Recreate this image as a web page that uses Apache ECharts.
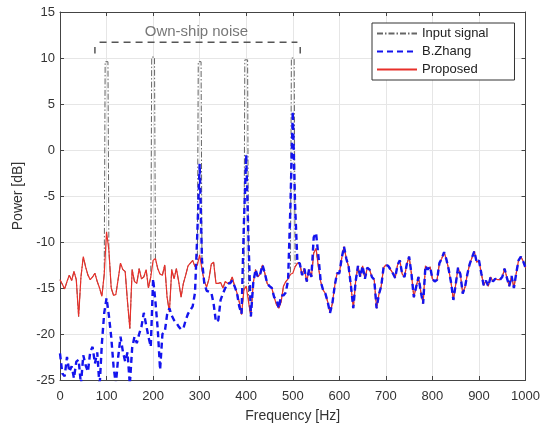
<!DOCTYPE html>
<html>
<head>
<meta charset="utf-8">
<script src="https://cdn.jsdelivr.net/npm/echarts@6/dist/echarts.min.js"></script>
<style>
  html, body { margin: 0; padding: 0; background: #fff; }
  #box { width: 543px; height: 428px; }
</style>
</head>
<body>
<div id="box"></div>
<script>
// frequency grid: one sample every 5 Hz, 0..1000
const step = 5;

// Proposed (red), 0..1000 Hz
const proposed = [
  -14.1,-14.6,-15.1,-14.3,-13.6,-14.2,-13.2,-14.1,-18.1,-13.8,-11.6,-12.7,-13.6,-14.1,-13.8,-13.4,-14.3,-15.0,-15.9,-13.5,
  -8.9,-10.9,-15.0,-15.8,-15.7,-14.0,-12.3,-13.0,-13.2,-16.5,-19.4,-13.0,-14.3,-14.5,-12.9,-14.0,-13.8,-13.0,-15.0,-13.8,
  -12.0,-11.8,-12.9,-13.5,-13.6,-12.5,-16.0,-17.6,-13.0,-14.0,-12.9,-14.3,-16.0,-14.5,-13.6,-12.6,-12.3,-12.0,-12.7,-12.5,
  -11.4,-13.0,-14.3,-14.9,-14.0,-12.4,-12.2,-14.5,-14.5,-14.4,-15.0,-14.3,-14.5,-14.4,-13.8,-14.8,-15.5,-16.5,-17.9,-15.2,
  -14.8,-16.5,-18.1,-14.5,-13.0,-13.8,-13.5,-12.5,-13.4,-14.5,-14.8,-15.0,-16.0,-16.8,-17.2,-16.5,-14.8,-14.3,-14.0,-13.5,
  -13.4,-12.7,-12.3,-12.3,-13.6,-12.9,-14.3,-13.0,-13.8,-11.2,-10.7,-12.7,-14.3,-15.2,-15.6,-16.5,-17.7,-16.7,-14.8,-13.4,
  -13.4,-11.8,-10.5,-11.8,-12.7,-14.8,-17.2,-14.3,-12.6,-13.8,-12.6,-14.0,-12.8,-13.0,-13.8,-14.1,-17.2,-15.7,-14.8,-12.8,
  -12.5,-12.6,-13.0,-13.4,-13.9,-12.5,-12.0,-13.5,-13.8,-12.4,-11.6,-13.5,-16.0,-14.9,-13.8,-15.4,-16.7,-12.6,-13.0,-12.7,
  -14.0,-14.3,-14.1,-12.3,-11.8,-11.1,-11.9,-13.0,-14.4,-16.3,-14.6,-12.8,-13.5,-15.6,-14.9,-13.5,-12.4,-11.7,-11.0,-12.2,
  -12.0,-13.4,-14.7,-14.2,-14.8,-13.8,-14.3,-14.0,-14.1,-14.1,-13.8,-12.9,-13.9,-14.8,-13.7,-15.0,-13.4,-12.0,-11.6,-12.1,
  -12.8
];

// B.Zhang (blue), 0..505 Hz; above that it follows the proposed curve
const zhangLow = [
  -22.1,-24.3,-24.6,-22.5,-24.1,-23.5,-24.8,-23.0,-22.8,-25.5,-22.3,-23.4,-24.1,-21.9,-21.4,-23.2,-22.0,-25.8,-21.0,-17.7,
  -16.1,-18.0,-20.3,-23.5,-25.5,-22.5,-20.3,-21.9,-23.0,-22.0,-25.5,-21.5,-20.3,-21.0,-20.0,-19.2,-17.7,-19.0,-20.3,-21.4,
  -14.0,-16.5,-19.5,-23.9,-20.0,-19.8,-17.9,-17.2,-18.0,-18.5,-18.8,-19.2,-19.5,-19.4,-18.5,-17.8,-17.4,-17.0,-15.5,-9.0,
  -1.5,-12.0,-14.5,-15.3,-15.4,-15.5,-16.7,-18.7,-18.5,-16.3,-15.6,-15.0,-14.5,-14.5,-14.2,-14.8,-15.5,-17.0,-17.8,-8.0,
  -0.5,-10.0,-18.1,-14.5,-13.0,-13.8,-13.5,-12.5,-13.4,-14.5,-14.8,-15.0,-16.0,-16.2,-17.2,-15.8,-15.8,-15.5,-14.1,-6.0,
  4.2,-6.0
];
const bumpFreqs = [545, 550, 555];
const bumpVals = [-9.5, -9.0, -11.5];

// Input signal (gray): own-ship tonals, flat top about 6 Hz wide
const peakFreqs = [100, 200, 300, 400, 500];
const peakTops = [9.6, 10.1, 9.6, 9.8, 10.0];
const peakHalfWidth = 3;

const freqs = proposed.map((v, i) => i * step);

const inputData = [];
freqs.forEach((f, i) => {
  const k = peakFreqs.indexOf(f);
  if (k >= 0) {
    inputData.push([f - peakHalfWidth, peakTops[k]], [f + peakHalfWidth, peakTops[k]]);
  } else {
    inputData.push([f, proposed[i]]);
  }
});
const zhangData = freqs.map((f, i) => {
  if (i < zhangLow.length) return [f, zhangLow[i]];
  const k = bumpFreqs.indexOf(f);
  return [f, k >= 0 ? bumpVals[k] : proposed[i]];
});
const proposedData = freqs.map((f, i) => [f, proposed[i]]);

// "Own-ship noise" bracket
const bracket = [
  [[75, 10.5], [75, 11.2]],
  [[85, 11.7], [510, 11.7]],
  [[516, 10.5], [516, 11.2]]
];

const font = 'Liberation Sans, Arial, sans-serif';
const axisColor = '#444';

let myecharts = echarts.init(document.getElementById('box'));

let bracketSeries = bracket.map(seg => ({
  type: 'line',
  data: seg,
  symbol: 'none',
  silent: true,
  z: 5,
  lineStyle: {color: '#555', width: 1.5, type: [7, 5]}
}));

const sideAxis = {
  axisLine: {show: true, onZero: false, lineStyle: {color: axisColor}},
  axisTick: {show: true, inside: true, length: 4, lineStyle: {color: axisColor}},
  axisLabel: {show: false},
  splitLine: {show: false}
};

let option = {
  animation: false,
  backgroundColor: '#fff',
  textStyle: {fontFamily: font},
  grid: {left: 60, right: 16, top: 12, bottom: 45},
  legend: {
    data: ['Input signal', 'B.Zhang', 'Proposed'],
    orient: 'vertical',
    left: 372,
    top: 23,
    itemWidth: 40,
    itemHeight: 14,
    itemGap: 5,
    padding: [4, 26, 4, 4],
    borderColor: '#333',
    borderWidth: 1,
    borderRadius: 0,
    backgroundColor: '#fff',
    itemStyle: {opacity: 0},
    textStyle: {fontSize: 13, color: '#222', fontFamily: font}
  },
  xAxis: [{
    type: 'value',
    min: 0,
    max: 1000,
    interval: 100,
    name: 'Frequency [Hz]',
    nameLocation: 'middle',
    nameGap: 29,
    nameTextStyle: {fontSize: 14, color: '#333'},
    axisLine: {onZero: false, lineStyle: {color: axisColor}},
    axisTick: {inside: true, length: 4, lineStyle: {color: axisColor}},
    axisLabel: {fontSize: 13, color: '#333', margin: 10, formatter: v => String(v)},
    splitLine: {show: true, lineStyle: {color: '#e6e6e6'}}
  }, Object.assign({
    type: 'value',
    position: 'top',
    min: 0,
    max: 1000,
    interval: 100
  }, sideAxis)],
  yAxis: [{
    type: 'value',
    min: -25,
    max: 15,
    interval: 5,
    name: 'Power [dB]',
    nameLocation: 'middle',
    nameGap: 35,
    nameTextStyle: {fontSize: 14, color: '#333'},
    axisLine: {show: true, onZero: false, lineStyle: {color: axisColor}},
    axisTick: {show: true, inside: true, length: 4, lineStyle: {color: axisColor}},
    axisLabel: {fontSize: 13, color: '#333', margin: 5},
    splitLine: {show: true, lineStyle: {color: '#e6e6e6'}}
  }, Object.assign({
    type: 'value',
    position: 'right',
    min: -25,
    max: 15,
    interval: 5
  }, sideAxis)],
  series: [
    {
      name: 'Input signal',
      type: 'line',
      data: inputData,
      symbol: 'none',
      z: 2,
      lineStyle: {color: '#666', width: 1, type: [6, 2, 1.5, 2]},
      itemStyle: {color: '#666'}
    },
    {
      name: 'Proposed',
      type: 'line',
      data: proposedData,
      symbol: 'none',
      z: 3,
      lineStyle: {color: '#e8302a', width: 1.2},
      itemStyle: {color: '#e8302a'}
    },
    {
      name: 'B.Zhang',
      type: 'line',
      data: zhangData,
      symbol: 'none',
      z: 4,
      lineStyle: {color: '#1414ee', width: 2.4, type: [6, 4]},
      itemStyle: {color: '#1414ee'}
    },
    ...bracketSeries,
    {
      type: 'scatter',
      data: [[293, 12.8]],
      symbolSize: 0,
      silent: true,
      z: 6,
      label: {
        show: true,
        position: 'inside',
        formatter: 'Own-ship noise',
        fontSize: 15,
        color: '#555',
        fontFamily: font
      }
    }
  ]
};
myecharts.setOption(option);
</script>
</body>
</html>
